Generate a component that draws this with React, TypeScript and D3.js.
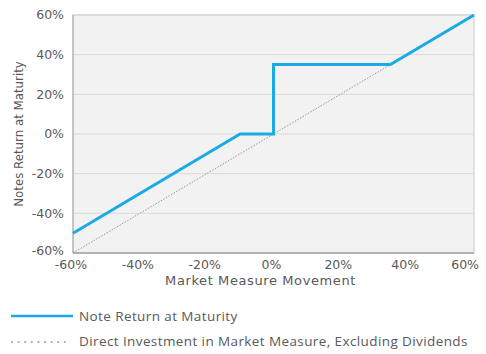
import * as d3 from 'd3';

const NOTE_X = [-60, -10, 0, 0, 35, 60];
const NOTE_Y = [-50, 0, 0, 35, 35, 60];
const DIRECT_X = [-60, 60];
const DIRECT_Y = [-60, 60];
const TICKS = [-60, -40, -20, 0, 20, 40, 60];
const LEGEND = ['Note Return at Maturity', 'Direct Investment in Market Measure, Excluding Dividends'];

export default function App() {
  const width = 486;
  const height = 354;
  const margin = { top: 15, right: 12, bottom: 101, left: 73 };
  const innerW = width - margin.left - margin.right;
  const innerH = height - margin.top - margin.bottom;

  const x = d3.scaleLinear().domain([-60, 60]).range([0, innerW]);
  const y = d3.scaleLinear().domain([-60, 60]).range([innerH, 0]);

  const line = d3.line<[number, number]>().x(d => x(d[0])).y(d => y(d[1]));
  const notePts = NOTE_X.map((v, i) => [v, NOTE_Y[i]] as [number, number]);
  const directPts = DIRECT_X.map((v, i) => [v, DIRECT_Y[i]] as [number, number]);

  const axisFont = 'DejaVu Sans, Verdana, sans-serif';
  const legendFont = '"Open Sans", sans-serif';
  const textColor = '#595959';
  const last = TICKS[TICKS.length - 1];

  return (
    <svg width={width} height={height} style={{ position: 'absolute', left: 0, top: 0, background: '#fff' }}>
      <g transform={`translate(${margin.left},${margin.top})`}>
        <rect x={0} y={0} width={innerW} height={innerH} fill="#f2f2f2" stroke="#c8c8c8" />
        {TICKS.map(t => (
          <line key={'g' + t} x1={0} x2={innerW} y1={y(t)} y2={y(t)} stroke="#d9d9d9" strokeWidth={1} />
        ))}
        <line x1={0} x2={innerW} y1={innerH} y2={innerH} stroke="#868686" />
        <line x1={0} x2={0} y1={0} y2={innerH} stroke="#a6a6a6" />
        <path d={line(directPts) ?? ''} fill="none" stroke="#999" strokeWidth={1} strokeDasharray="1.5,1.5" />
        <path d={line(notePts) ?? ''} fill="none" stroke="#1aabe6" strokeWidth={3} strokeLinejoin="miter" />
        {TICKS.map(t => (
          <text key={'y' + t} x={-9} y={y(t) - (t === TICKS[0] ? 2 : 0)} dy="0.35em" textAnchor="end" fontFamily={axisFont} fontSize={12.5} fill={textColor}>
            {t}%
          </text>
        ))}
        {TICKS.map(t => (
          <text key={'x' + t}
            x={t === last ? x(t) + 5 : x(t) - 2}
            y={innerH + 16}
            textAnchor={t === last ? 'end' : 'middle'}
            fontFamily={axisFont} fontSize={12.5} fill={textColor}>
            {t}%
          </text>
        ))}
        <text x={x(0) - 13} y={innerH + 32} textAnchor="middle" fontFamily={axisFont} fontSize={13} letterSpacing={0.6} fill={textColor}>
          Market Measure Movement
        </text>
        <text transform={`translate(${-50},${innerH / 2}) rotate(-90)`} textAnchor="middle" fontFamily={axisFont} fontSize={11.8} fill={textColor}>
          Notes Return at Maturity
        </text>
      </g>
      <g>
        <line x1={11} x2={73} y1={316} y2={316} stroke="#1aabe6" strokeWidth={2.5} />
        <text x={79} y={316} dy="0.35em" fontFamily={legendFont} fontSize={13.5} letterSpacing={0.4} fill={textColor}>{LEGEND[0]}</text>
        <line x1={11} x2={69} y1={342} y2={342} stroke="#999" strokeWidth={1.5} strokeDasharray="2,4.6" />
        <text x={79} y={341} dy="0.35em" fontFamily={legendFont} fontSize={13.5} letterSpacing={0.4} fill={textColor}>{LEGEND[1]}</text>
      </g>
    </svg>
  );
}
